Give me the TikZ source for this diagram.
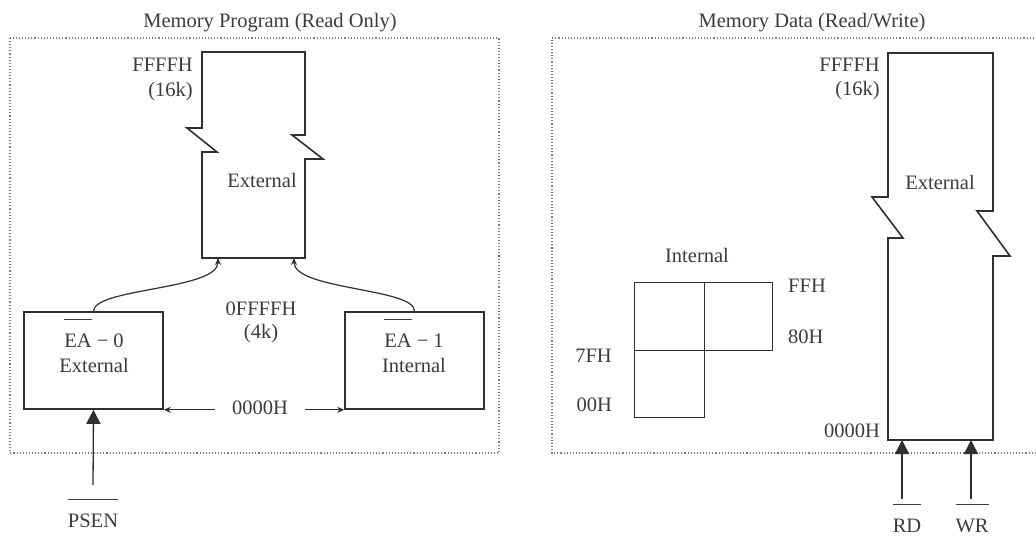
\documentclass[tikz,border=0pt]{standalone}
\usepackage{fontspec}
\setmainfont{Liberation Serif}
\usetikzlibrary{arrows.meta}
\definecolor{ink}{RGB}{48,48,48}
\definecolor{txt}{RGB}{60,60,60}
\definecolor{frm}{RGB}{125,125,125}
\newsavebox{\barbox}
\newcommand{\barred}[1]{\sbox{\barbox}{#1}\makebox[0pt][l]{\raisebox{1.33em}[0pt][0pt]{\rule{\wd\barbox}{0.9pt}}}\usebox{\barbox}}
\begin{document}
\begin{tikzpicture}[x=1pt,y=-1pt,
  font=\fontsize{20.5}{25}\selectfont,
  lbl/.style={inner sep=0pt, text=txt},
  eabox/.style={draw=ink, line width=1.6pt, minimum width=139pt, minimum height=97pt, inner sep=0pt},
  cell/.style={draw=ink, line width=1.3pt, minimum width=70pt, minimum height=68pt, anchor=north west, inner sep=0pt},
  framebox/.style={draw=frm, dotted, line width=1.1pt},
  memblock/.style={draw=ink, line width=1.6pt, line join=miter},
  sig/.style={draw=ink, line width=1.3pt, -{Triangle[width=14pt,length=14pt]}},
  feed/.style={draw=ink, line width=1.2pt, -{Stealth[width=6pt,length=7pt]}}]
\useasboundingbox (0,0) rectangle (1036,537);
\fill[white] (0,0) rectangle (1036,537);

% ---------------- left panel ----------------
\node[lbl, anchor=base] (ltitle) at (270,28) {Memory Program (Read Only)};
\draw[framebox] (10,38) rectangle (499,453);

\coordinate (pin1) at (218,258);
\coordinate (pin2) at (294,258);
\draw[memblock] (202,52) -- (305,52) -- (305,135) -- (292,135) -- (323,159) -- (305,159)
  -- (305,258) -- (202,258) -- (202,152) -- (217,152) -- (187,128) -- (202,128) -- cycle;

\node[lbl, anchor=base east] (pffff) at (193,72) {FFFFH};
\node[lbl, anchor=base east] (p16k) at (193,97) {(16k)};
\node[lbl, anchor=base] (pext) at (262,188) {External};

\node[eabox] (ea0) at (93.5,360.5) {};
\node[eabox] (ea1) at (414.5,360.5) {};
\node[lbl, align=center] (ea0t) at (94,353) {\barred{EA} − 0\\External};
\node[lbl, align=center] (ea1t) at (414,353) {\barred{EA} − 1\\Internal};

\node[lbl, anchor=base] (p0ffff) at (261,316) {0FFFFH};
\node[lbl, anchor=base] (p4k) at (261,338) {(4k)};
\node[lbl, anchor=base, inner xsep=17pt] (p0000) at (260,414) {0000H};

\draw[feed] (ea0.north) .. controls (94,288) and (218,290) .. (pin1);
\draw[feed] (ea1.north) .. controls (415,288) and (294,290) .. (pin2);
\draw[feed] (p0000.west |- ea0.south east) -- (ea0.south east);
\draw[feed] (p0000.east |- ea1.south west) -- (ea1.south west);

\node[lbl, anchor=base] (psen) at (93,527) {\barred{PSEN}};
\coordinate (psenfoot) at (93,485);
\draw[sig] (psenfoot) -- (ea0.south);

% ---------------- right panel ----------------
\node[lbl, anchor=base] (rtitle) at (812,27.5) {Memory Data (Read/Write)};
\draw[framebox] (1040,38) -- (552,38) -- (552,453) -- (1040,453);

\draw[memblock] (888,53) -- (993,53) -- (993,211) -- (977,211) -- (1010,256) -- (993,256)
  -- (993,440) -- (888,440) -- (888,238) -- (903,238) -- (872,197) -- (888,197) -- cycle;
\node[lbl, anchor=base east] (dffff) at (880,72) {FFFFH};
\node[lbl, anchor=base east] (d16k) at (880,96) {(16k)};
\node[lbl, anchor=base] (dext) at (940,190) {External};
\node[lbl, anchor=base east] (d0000) at (880,437) {0000H};

\node[lbl, anchor=base] (intl) at (697,263) {Internal};
\node[cell] (c1) at (634,282) {};
\node[cell, minimum width=68pt] (c2) at (704,282) {};
\node[cell, minimum height=67pt] (c3) at (634,350) {};
\node[lbl, anchor=base west] (ffh) at (788,293) {FFH};
\node[lbl, anchor=base west] (h80) at (788,343) {80H};
\node[lbl, anchor=base east] (h7f) at (612,362) {7FH};
\node[lbl, anchor=base east] (h00) at (612,411) {00H};

\coordinate (rdin) at (902,440);
\coordinate (wrin) at (971,440);
\coordinate (rdfoot) at (902,499);
\coordinate (wrfoot) at (971,499);
\draw[sig] (rdfoot) -- (rdin);
\draw[sig] (wrfoot) -- (wrin);
\node[lbl, anchor=base] (rd) at (907,532) {\barred{RD}};
\node[lbl, anchor=base] (wr) at (972,532) {\barred{WR}};
\end{tikzpicture}
\end{document}
